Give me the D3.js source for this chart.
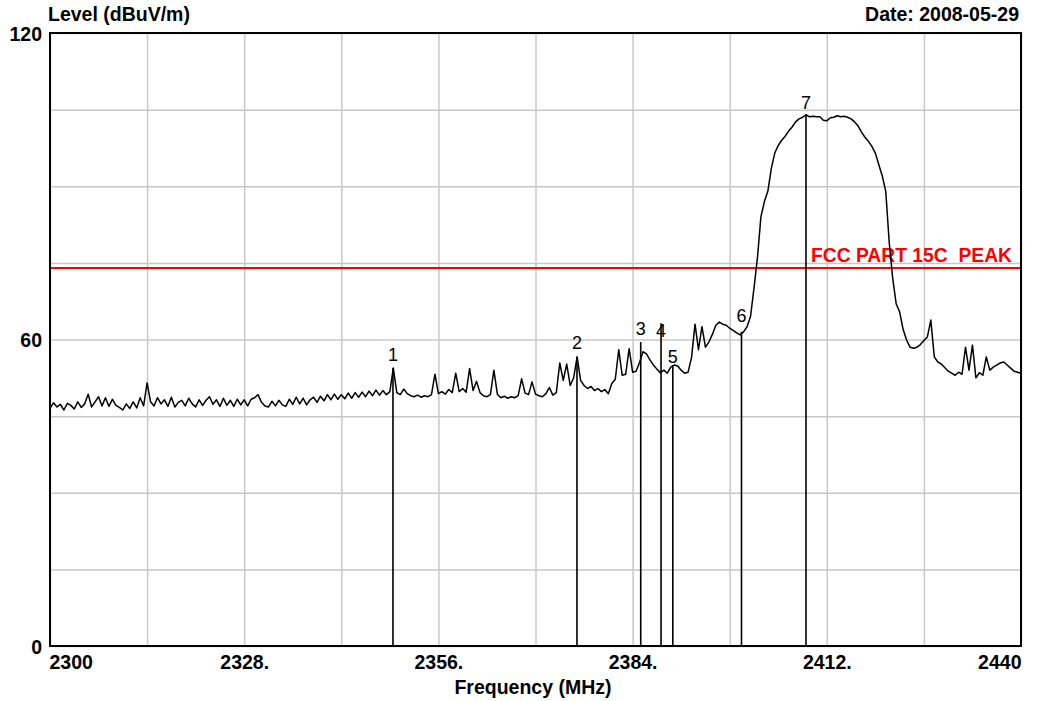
<!DOCTYPE html>
<html><head><meta charset="utf-8">
<script src="https://cdn.jsdelivr.net/npm/d3@7"></script>
<style>
html,body{margin:0;padding:0;background:#fff;}
svg{display:block;}
text{font-family:"Liberation Sans",Arial,sans-serif;}
</style></head>
<body>
<svg id="chart" width="1039" height="701"></svg>
<script>
// ---- data ----
const freqDomain = [2300, 2440];
const levelDomain = [0, 120];
const xGridValues = [2300, 2314, 2328, 2342, 2356, 2370, 2384, 2398, 2412, 2426, 2440];
const yGridValues = [0, 15, 30, 45, 60, 75, 90, 105, 120];
const xTickValues = [2300, 2328, 2356, 2384, 2412, 2440];
const xTickLabels = ["2300", "2328.", "2356.", "2384.", "2412.", "2440"];
const yTickValues = [120, 60, 0];
const yTickLabels = ["120", "60", "0"];
const traceStart = 2300, traceStep = 0.5;
const traceLevels = [
  46.5,47.6,46.8,47.3,46.2,47.5,47.1,46.4,47.8,46.7,
  47.4,49.3,46.8,47.8,48.8,47.0,48.6,46.9,48.3,47.1,
  46.7,46.2,47.4,46.5,47.8,46.6,48.6,47.0,51.5,47.8,
  47.0,48.6,47.4,48.2,46.9,48.7,46.8,47.7,48.1,47.0,
  48.5,47.4,46.8,48.2,47.1,48.1,48.8,47.3,48.2,46.9,
  48.5,47.1,48.1,46.9,48.3,47.2,48.2,47.0,48.3,48.6,
  49.2,47.7,47.0,46.8,47.9,47.0,48.1,47.2,46.9,48.3,
  47.3,48.7,47.4,48.5,47.2,48.2,48.7,47.7,48.9,48.0,
  49.2,48.2,49.3,48.3,49.2,48.4,49.5,48.5,49.6,48.7,
  49.7,48.8,49.9,49.0,50.1,49.1,50.0,49.2,49.8,54.4,
  49.6,49.2,50.3,49.4,49.0,48.8,49.1,48.7,49.0,48.8,
  49.2,53.2,49.4,49.8,49.3,50.2,49.6,53.4,49.8,50.4,
  49.7,54.3,50.0,51.8,49.6,49.0,48.8,49.2,54.0,49.3,
  48.6,48.9,48.5,48.8,48.6,49.0,52.3,49.5,49.2,51.7,
  49.3,49.0,48.8,49.4,50.6,49.1,49.6,55.4,52.0,55.2,
  51.0,52.5,56.6,52.0,51.0,50.4,50.8,50.0,50.4,49.8,
  50.2,49.4,51.4,52.2,58.0,53.0,53.2,58.2,53.6,53.8,
  55.5,57.6,57.2,56.0,55.0,54.2,53.5,54.0,53.4,54.6,
  55.0,54.8,54.0,53.4,53.6,56.5,63.0,58.0,62.5,58.5,
  59.5,61.0,62.8,63.4,63.0,62.8,62.2,61.8,61.3,60.9,
  61.5,62.5,64.5,70.0,76.0,84.0,87.0,89.0,93.5,96.5,
  98.0,99.0,99.8,100.8,101.6,102.6,103.2,103.5,104.0,103.6,
  103.7,103.6,103.6,102.9,102.8,103.4,103.5,103.8,103.6,103.7,
  103.5,103.2,102.6,101.8,100.6,99.6,98.8,97.8,96.5,94.2,
  92.0,89.0,79.0,72.0,67.0,65.4,62.0,59.9,58.5,58.3,
  58.5,59.0,59.8,60.5,63.8,56.6,55.6,55.2,54.5,53.8,
  53.4,53.0,53.6,53.2,58.5,54.0,58.9,52.5,53.5,53.0,
  56.6,54.0,54.6,55.0,55.4,55.6,55.0,54.4,53.8,53.6,
  53.4
];
const markerIds = ["1","2","3","4","5","6","7"];
const markerFreqs = [2349.45, 2375.98, 2385.17, 2388.1, 2389.8, 2399.7, 2409.0];
const markerLevels = [54.4, 56.6, 59.5, 63.2, 55.0, 61.5, 104.0];
const markerLabelLevels = [55.8, 58.1, 60.9, 60.5, 55.4, 63.4, 105.1];
const limitLevel = 74;
const limitLabel = "FCC PART 15C\u00a0\u00a0PEAK";
const yTitle = "Level (dBuV/m)";
const xTitle = "Frequency (MHz)";
const dateLabel = "Date: 2008-05-29";

// ---- drawing ----
const svg = d3.select("#chart");
const L = 50, R = 1021, T = 33, B = 646;
const x = d3.scaleLinear().domain(freqDomain).range([L, R]);
const y = d3.scaleLinear().domain(levelDomain).range([B, T]);

// grid
const gx = svg.append("g").attr("transform", `translate(0,${B})`)
  .call(d3.axisBottom(x).tickValues(xGridValues).tickSize(-(B - T)).tickFormat(""));
gx.select(".domain").remove();
gx.selectAll("line").attr("stroke", "#c8c8c8").attr("stroke-width", 1.5);
const gy = svg.append("g").attr("transform", `translate(${L},0)`)
  .call(d3.axisLeft(y).tickValues(yGridValues).tickSize(-(R - L)).tickFormat(""));
gy.select(".domain").remove();
gy.selectAll("line").attr("stroke", "#c8c8c8").attr("stroke-width", 1.5);

// limit line
svg.append("line").attr("x1", x(freqDomain[0])).attr("x2", x(freqDomain[1]))
  .attr("y1", y(limitLevel)).attr("y2", y(limitLevel))
  .attr("stroke", "#ff0000").attr("stroke-width", 2);
svg.append("text").attr("x", R - 9).attr("y", y(limitLevel) - 6)
  .attr("text-anchor", "end").attr("fill", "#ff0000")
  .style("font-weight", "bold").style("font-size", "19.3px").text(limitLabel);

// trace
const traceData = traceLevels.map((v, i) => [traceStart + i * traceStep, v]);
svg.append("path").datum(traceData)
  .attr("fill", "none").attr("stroke", "#000").attr("stroke-width", 1.5)
  .attr("stroke-linejoin", "round")
  .attr("d", d3.line().x(d => x(d[0])).y(d => y(d[1])));

// markers
markerIds.forEach((id, i) => {
  svg.append("line").attr("x1", x(markerFreqs[i])).attr("x2", x(markerFreqs[i]))
    .attr("y1", y(markerLevels[i])).attr("y2", y(0))
    .attr("stroke", "#000").attr("stroke-width", 1.6);
  svg.append("text").attr("x", x(markerFreqs[i])).attr("y", y(markerLabelLevels[i]))
    .attr("text-anchor", "middle").style("font-size", "18px").attr("fill", "#000").text(id);
});

// frame
svg.append("rect").attr("x", L).attr("y", T).attr("width", R - L).attr("height", B - T)
  .attr("fill", "none").attr("stroke", "#000").attr("stroke-width", 2);

// x tick labels
const ax = svg.append("g").attr("transform", `translate(0,${B})`)
  .call(d3.axisBottom(x).tickValues(xTickValues).tickSize(0).tickPadding(0)
    .tickFormat((d, i) => xTickLabels[i]));
ax.select(".domain").remove();
ax.selectAll("text").attr("y", 23).attr("dy", null)
  .style("font-family", '"Liberation Sans",Arial,sans-serif')
  .style("font-weight", "bold").style("font-size", "19.5px").attr("fill", "#000")
  .attr("text-anchor", (d, i) => i === 0 ? "start" : (i === xTickValues.length - 1 ? "end" : "middle"))
  .attr("dx", (d, i) => i === 0 ? -1 : 0);

// y tick labels
const ay = svg.append("g").attr("transform", `translate(${L},0)`)
  .call(d3.axisLeft(y).tickValues(yTickValues).tickSize(0).tickPadding(8)
    .tickFormat((d, i) => yTickLabels[i]));
ay.select(".domain").remove();
ay.selectAll("text").attr("dy", "0.36em")
  .style("font-family", '"Liberation Sans",Arial,sans-serif')
  .style("font-weight", "bold").style("font-size", "19.5px").attr("fill", "#000");

// titles
svg.append("text").attr("x", 48).attr("y", 21).style("font-weight", "bold")
  .style("font-size", "19.5px").text(yTitle);
svg.append("text").attr("x", R - 2).attr("y", 21).attr("text-anchor", "end")
  .style("font-weight", "bold").style("font-size", "19.5px").text(dateLabel);
svg.append("text").attr("x", 533).attr("y", 694).attr("text-anchor", "middle")
  .style("font-weight", "bold").style("font-size", "19.5px").text(xTitle);
</script>
</body></html>
